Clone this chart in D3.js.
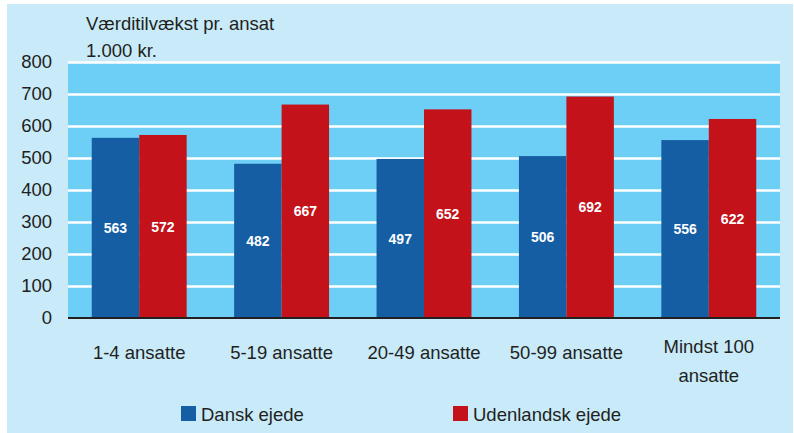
<!DOCTYPE html>
<html>
<head>
<meta charset="utf-8">
<script src="https://cdn.jsdelivr.net/npm/d3@7"></script>
<style>
  body { margin: 0; background: #fff; }
  svg { display: block; font-family: "Liberation Sans", Arial, sans-serif; }
</style>
</head>
<body>
<div id="chart"></div>
<script>
// Data
const categories = ['1-4 ansatte', '5-19 ansatte', '20-49 ansatte', '50-99 ansatte', 'Mindst 100 ansatte'];
const seriesNames = ['Dansk ejede', 'Udenlandsk ejede'];
const danskValues = [563, 482, 497, 506, 556];
const udenlandskValues = [572, 667, 652, 692, 622];
const yTicks = [0, 100, 200, 300, 400, 500, 600, 700, 800];
const seriesColors = ['#155ea4', '#c4121a'];

const width = 794, height = 433;
const margin = {top: 62, right: 14, bottom: 115, left: 68};
const innerW = width - margin.left - margin.right;
const innerH = height - margin.top - margin.bottom;
const fs = 18.5;

const svg = d3.select('#chart').append('svg')
  .attr('width', width)
  .attr('height', height);

// outer light blue background
svg.append('rect')
  .attr('x', 7).attr('y', 4)
  .attr('width', 786).attr('height', 429)
  .attr('fill', '#c8eaf9');

const g = svg.append('g')
  .attr('transform', `translate(${margin.left},${margin.top})`);

const x0 = d3.scaleBand().domain(categories).range([0, innerW]).paddingInner(0).paddingOuter(0);
const x1 = d3.scaleBand().domain(seriesNames).range([x0.bandwidth() / 6, x0.bandwidth() * 5 / 6]);
const y = d3.scaleLinear().domain([0, 800]).range([innerH, 0]);

// plot background
g.append('rect')
  .attr('width', innerW).attr('height', innerH)
  .attr('fill', '#6dcff6');

// gridlines
g.append('g')
  .call(d3.axisLeft(y).tickValues(yTicks.slice(1)).tickSize(-innerW).tickFormat(''))
  .call(a => a.select('.domain').remove())
  .call(a => a.selectAll('line').attr('stroke', '#fff').attr('stroke-width', 2.5));

// y tick labels
g.append('g')
  .call(d3.axisLeft(y).tickValues(yTicks).tickSize(0).tickPadding(16))
  .call(a => a.select('.domain').remove())
  .call(a => a.selectAll('text')
    .attr('font-size', fs)
    .attr('fill', '#231f20')
    .attr('font-family', '"Liberation Sans", Arial, sans-serif'));

const rows = categories.map((c, i) => ({cat: c, vals: [danskValues[i], udenlandskValues[i]]}));

const groups = g.selectAll('.group')
  .data(rows)
  .join('g')
  .attr('class', 'group')
  .attr('transform', d => `translate(${x0(d.cat)},0)`);

groups.selectAll('rect')
  .data(d => d.vals.map((v, j) => ({name: seriesNames[j], value: v, j})))
  .join('rect')
  .attr('x', d => x1(d.name))
  .attr('width', x1.bandwidth())
  .attr('y', d => y(d.value))
  .attr('height', d => innerH - y(d.value))
  .attr('fill', d => seriesColors[d.j]);

groups.selectAll('.val')
  .data(d => d.vals.map((v, j) => ({name: seriesNames[j], value: v})))
  .join('text')
  .attr('class', 'val')
  .attr('x', d => x1(d.name) + x1.bandwidth() / 2)
  .attr('y', d => y(d.value / 2))
  .attr('dy', '0.36em')
  .attr('text-anchor', 'middle')
  .attr('fill', '#fff')
  .attr('font-weight', 'bold')
  .attr('font-size', 14)
  .text(d => d.value);

// zero axis line
g.append('line')
  .attr('x1', 0).attr('x2', innerW)
  .attr('y1', innerH).attr('y2', innerH)
  .attr('stroke', '#231f20').attr('stroke-width', 2);

// category labels (wrap the last one)
const catLines = {'Mindst 100 ansatte': ['Mindst 100', 'ansatte']};
g.selectAll('.cat')
  .data(categories)
  .join('text')
  .attr('class', 'cat')
  .attr('x', d => x0(d) + x0.bandwidth() / 2)
  .attr('y', d => catLines[d] ? innerH + 35 : innerH + 41)
  .attr('text-anchor', 'middle')
  .attr('font-size', fs)
  .attr('fill', '#231f20')
  .each(function(d) {
    const lines = catLines[d] || [d];
    d3.select(this).selectAll('tspan')
      .data(lines)
      .join('tspan')
      .attr('x', x0(d) + x0.bandwidth() / 2)
      .attr('dy', (l, i) => i === 0 ? 0 : 29)
      .text(l => l);
  });

// title
svg.append('text')
  .attr('x', 86).attr('y', 30)
  .attr('font-size', fs).attr('fill', '#231f20')
  .text('Værditilvækst pr. ansat');
svg.append('text')
  .attr('x', 86).attr('y', 57)
  .attr('font-size', fs).attr('fill', '#231f20')
  .text('1.000 kr.');

// legend
const legendX = [181, 453];
const legend = svg.selectAll('.legend')
  .data(seriesNames)
  .join('g')
  .attr('class', 'legend')
  .attr('transform', (d, i) => `translate(${legendX[i]},406)`);
legend.append('rect')
  .attr('width', 15).attr('height', 15)
  .attr('fill', (d, i) => seriesColors[i]);
legend.append('text')
  .attr('x', 20).attr('y', 14.5)
  .attr('font-size', fs).attr('fill', '#231f20')
  .text(d => d);
</script>
</body>
</html>
